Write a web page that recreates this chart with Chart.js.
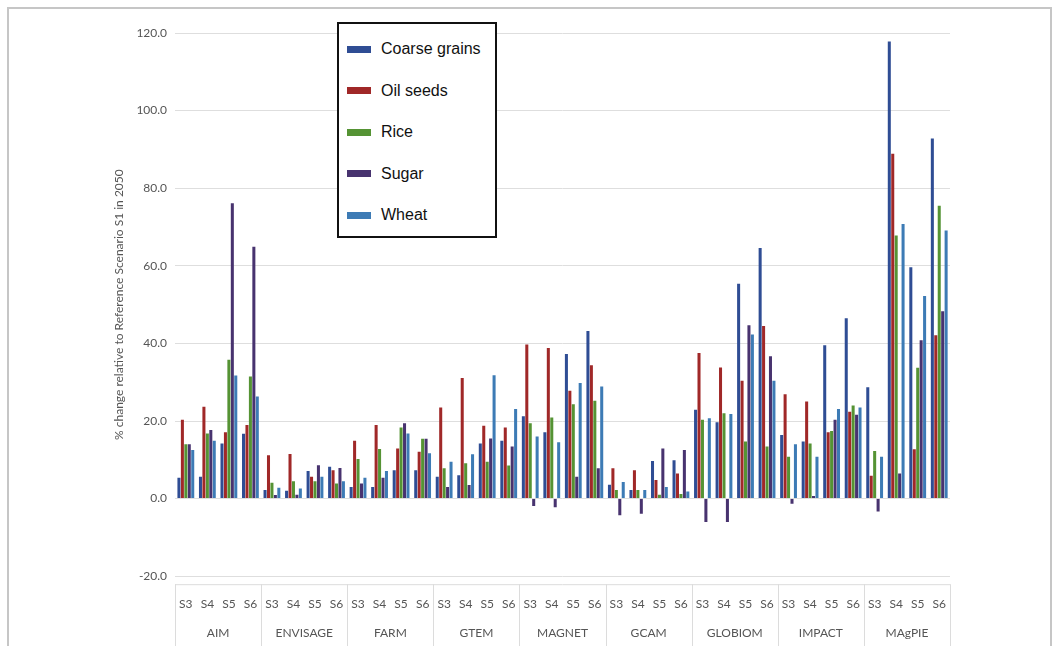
<!DOCTYPE html>
<html>
<head>
<meta charset="utf-8">
<script src="https://cdn.jsdelivr.net/npm/chart.js@4"></script>
<style>
  html, body { margin: 0; padding: 0; background: #fff; }
  #frame {
    position: absolute; left: 7px; top: 7px; width: 1041px; height: 660px;
    border: 2px solid #c6c6c6;
  }
  #wrap { position: absolute; left: 0; top: 0; width: 1058px; height: 646px; }
  #legendBox {
    position: absolute; left: 337px; top: 22px; width: 156px; height: 212px;
    border: 2px solid #111; background: #fff;
    font-family: "Liberation Sans", Arial, sans-serif; font-size: 16px; color: #111;
  }
  .item { position: absolute; left: 8px; height: 20px; display: flex; align-items: center; }
  .sw { width: 24px; height: 7px; margin-right: 10px; }
</style>
</head>
<body>
<div id="frame"></div>
<div id="wrap"><canvas id="myChart" width="1058" height="646"></canvas></div>
<div id="legendBox"></div>
<script>
const models = ["AIM", "ENVISAGE", "FARM", "GTEM", "MAGNET", "GCAM", "GLOBIOM", "IMPACT", "MAgPIE"];
const scenarios = ["S3", "S4", "S5", "S6"];

// values per model, S3..S6
const coarseGrains = [
  5.4, 5.6, 14.2, 16.7,   2.2, 2.0, 7.1, 8.2,   3.0, 3.0, 7.3, 7.3,
  5.6, 6.0, 14.2, 14.9,   21.2, 17.1, 37.3, 43.2,   3.6, 2.2, 9.7, 9.9,
  22.9, 19.7, 55.4, 64.6,   16.4, 14.7, 39.5, 46.5,   28.7, 117.8, 59.6, 92.8
];
const oilSeeds = [
  20.3, 23.7, 17.1, 19.0,   11.2, 11.5, 5.6, 7.3,   14.9, 19.0, 12.9, 12.1,
  23.5, 31.1, 18.8, 18.3,   39.7, 38.8, 27.8, 34.4,   7.8, 7.3, 4.8, 6.5,
  37.5, 33.8, 30.4, 44.5,   26.9, 25.0, 17.1, 22.4,   5.9, 88.9, 12.7, 42.1
];
const rice = [
  14.0, 16.8, 35.8, 31.5,   4.1, 4.5, 4.5, 3.9,   10.2, 12.8, 18.3, 15.4,
  7.8, 9.1, 9.5, 8.5,   19.4, 20.9, 24.3, 25.2,   2.2, 2.2, 1.0, 1.2,
  20.3, 22.0, 14.7, 13.4,   10.8, 14.2, 17.4, 24.0,   12.3, 67.8, 33.7, 75.5
];
const sugar = [
  14.0, 17.7, 76.1, 64.9,   0.9, 1.0, 8.6, 7.9,   3.9, 5.4, 19.4, 15.4,
  3.0, 3.5, 15.5, 13.4,   -1.9, -2.2, 5.6, 7.8,   -4.3, -3.9, 12.9, 12.5,
  -6.0, -6.0, 44.7, 36.7,   -1.3, 0.7, 20.3, 21.6,   -3.3, 6.5, 40.8, 48.3
];
const wheat = [
  12.5, 14.9, 31.7, 26.3,   2.8, 2.6, 5.6, 4.5,   5.4, 7.1, 16.8, 11.7,
  9.5, 11.4, 31.8, 23.1,   16.0, 14.5, 29.8, 28.9,   4.3, 2.2, 3.0, 1.8,
  20.7, 21.8, 42.3, 30.4,   14.0, 10.8, 23.1, 23.5,   10.8, 70.8, 52.2, 69.1
];

const labels = [];
models.forEach(() => scenarios.forEach(s => labels.push(s)));

const mkSet = (label, values, color) => ({
  label: label,
  data: values,
  backgroundColor: color,
  borderColor: color,
  borderWidth: 0,
  categoryPercentage: 0.8,
  barPercentage: 0.88,
});

const data = {
  labels: labels,
  datasets: [
    mkSet("Coarse grains", coarseGrains, "#2f4d94"),
    mkSet("Oil seeds", oilSeeds, "#a02828"),
    mkSet("Rice", rice, "#559334"),
    mkSet("Sugar", sugar, "#48336f"),
    mkSet("Wheat", wheat, "#3d7bb5"),
  ],
};

// box lines around the x axis labels, split per model
const groupLines = {
  id: "groupLines",
  afterDraw(chart) {
    const x = chart.scales.x;
    const area = chart.chartArea;
    const ctx = chart.ctx;
    const top = area.bottom + 8;
    const bottom = chart.height;
    ctx.save();
    ctx.strokeStyle = "#dcdcdc";
    ctx.lineWidth = 1;
    ctx.beginPath();
    ctx.moveTo(area.left, top + 0.5);
    ctx.lineTo(area.right, top + 0.5);
    for (let g = 0; g <= models.length; g++) {
      let px;
      if (g === 0) px = area.left;
      else if (g === models.length) px = area.right;
      else px = (x.getPixelForValue(g * 4 - 1) + x.getPixelForValue(g * 4)) / 2;
      px = Math.round(px) + 0.5;
      ctx.moveTo(px, top);
      ctx.lineTo(px, bottom);
    }
    ctx.stroke();
    ctx.restore();
  },
};

const tickFont = { family: "Lato, 'Open Sans', sans-serif", size: 12 };

const config = {
  type: "bar",
  data: data,
  plugins: [groupLines],
  options: {
    responsive: false,
    animation: false,
    layout: { padding: { left: 112, right: 108, top: 33, bottom: 6 } },
    plugins: {
      legend: { display: false },
      tooltip: { enabled: false },
    },
    scales: {
      x: {
        grid: { display: false, tickLength: 21 },
        border: { display: false },
        ticks: { color: "#555", font: tickFont, autoSkip: false, maxRotation: 0, padding: 0 },
      },
      x2: {
        type: "category",
        labels: models,
        offset: true,
        position: "bottom",
        grid: { display: false, tickLength: 14 },
        border: { display: false },
        ticks: { color: "#555", font: tickFont, autoSkip: false, maxRotation: 0, padding: 0 },
      },
      y: {
        min: -20,
        max: 120,
        grid: { color: "#dedede", drawTicks: false },
        border: { display: false },
        ticks: {
          stepSize: 20,
          color: "#555",
          font: tickFont,
          padding: 8,
          callback: (v) => v.toFixed(1),
        },
        title: {
          display: true,
          text: "% change relative to Reference Scenario S1 in 2050",
          color: "#555",
          font: { family: "Lato, 'Open Sans', sans-serif", size: 12 },
          padding: { top: 0, bottom: 2 },
        },
      },
    },
  },
};

const ctx = document.getElementById("myChart").getContext("2d");
var chartExist = Chart.getChart("myChart");
if (chartExist != undefined) {
  chartExist.destroy();
}
const chart = new Chart(ctx, config);

// legend drawn as html inside the plot
const box = document.getElementById("legendBox");
const items = Chart.defaults.plugins.legend.labels.generateLabels(chart);
items.forEach((it, i) => {
  const row = document.createElement("div");
  row.className = "item";
  row.style.top = (15 + i * 41.5) + "px";
  const sw = document.createElement("span");
  sw.className = "sw";
  sw.style.background = it.fillStyle;
  const tx = document.createElement("span");
  tx.textContent = it.text;
  row.appendChild(sw);
  row.appendChild(tx);
  box.appendChild(row);
});
</script>
</body>
</html>
